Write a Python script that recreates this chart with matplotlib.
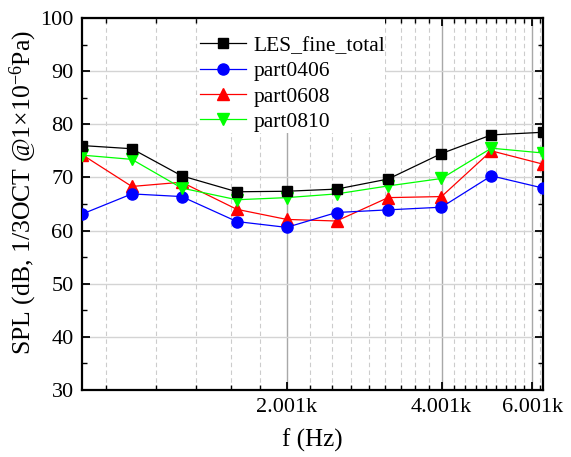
import numpy as np
import matplotlib
matplotlib.use("Agg")
import matplotlib.pyplot as plt
from matplotlib.patches import Rectangle
from matplotlib.ticker import FixedLocator, FuncFormatter, MultipleLocator

plt.rcParams['font.family'] = ['Liberation Serif', 'DejaVu Serif']
plt.rcParams['mathtext.fontset'] = 'custom'
plt.rcParams['mathtext.rm'] = 'Liberation Serif'
plt.rcParams['mathtext.default'] = 'regular'

# 1/3 octave band centre frequencies (Hz)
freq = [800, 1000, 1250, 1600, 2000, 2500, 3150, 4000, 5000, 6300]

les_fine_total = [76.0, 75.4, 70.3, 67.3, 67.4, 67.8, 69.7, 74.5, 78.0, 78.5]
part0406 = [63.1, 66.9, 66.4, 61.7, 60.6, 63.4, 63.9, 64.4, 70.3, 68.0]
part0608 = [74.3, 68.3, 69.1, 64.0, 62.1, 61.8, 66.2, 66.4, 75.0, 72.5]
part0810 = [74.2, 73.4, 68.0, 65.8, 66.2, 66.9, 68.4, 69.8, 75.5, 74.6]

x_major = [2001, 4001, 6001]

fig = plt.figure(figsize=(5.71, 4.57), dpi=100)
ax = fig.add_axes([0.1436, 0.1466, 0.8073, 0.814])

ax.plot(freq, les_fine_total, color='black', lw=0.9, marker='s', ms=7,
        label='LES_fine_total', zorder=5)
ax.plot(freq, part0406, color='blue', lw=0.9, marker='o', ms=8,
        label='part0406', zorder=4)
ax.plot(freq, part0608, color='red', lw=0.9, marker='^', ms=8.5,
        label='part0608', zorder=3)
ax.plot(freq, part0810, color='#00ff00', lw=0.9, marker='v', ms=8.5,
        label='part0810', zorder=4)

ax.set_xscale('log')
ax.set_xlim(800, 6300)
ax.set_ylim(30, 100)

# Origin-style linear ticks on a log axis: start at 1, step 2000, 8 minors
ax.xaxis.set_major_locator(FixedLocator(x_major))
minors = [1 + k * 2000 / 9 for k in range(1, 40)]
minors = [m for m in minors if all(abs(m - v) > 1 for v in x_major)]
ax.xaxis.set_minor_locator(FixedLocator(minors))
ax.xaxis.set_major_formatter(FuncFormatter(lambda v, p: f"{v / 1000:.3f}k"))
ax.xaxis.set_minor_formatter(FuncFormatter(lambda v, p: ""))

ax.yaxis.set_major_locator(MultipleLocator(10))
ax.yaxis.set_minor_locator(MultipleLocator(5))

ax.grid(True, which='major', axis='y', color='#d4d4d4', lw=1.0, zorder=0)
ax.grid(True, which='major', axis='x', color='#a8a8a8', lw=1.0, zorder=0)
ax.grid(True, which='minor', axis='x', color='#cccccc', lw=0.8,
        linestyle=(0, (4, 3)), zorder=0)
ax.set_axisbelow(True)

ax.tick_params(which='both', direction='in', top=True, right=True,
               labelsize=16, pad=6)
ax.tick_params(which='major', length=6, width=1.3)
ax.tick_params(which='minor', length=3.5, width=1.0)

for sp in ax.spines.values():
    sp.set_linewidth(1.6)

ax.set_xlabel('f (Hz)', fontsize=18, labelpad=8)
ax.set_ylabel('SPL (dB, 1/3OCT @1×10$^{-6}$Pa)', fontsize=18.5)
ax.yaxis.set_label_coords(-0.093, 0.532)

# white patch behind the legend hides the grid there
ax.add_patch(Rectangle((0.254, 0.691), 0.403, 0.309, transform=ax.transAxes,
                       facecolor='white', edgecolor='none', zorder=1))

leg = ax.legend(loc='upper left', bbox_to_anchor=(0.239, 0.973),
                borderaxespad=0, fontsize=15.5, frameon=False,
                handlelength=2.15, handletextpad=0.35, labelspacing=0.25,
                borderpad=0.35)
leg.set_zorder(10)

fig.savefig('out.png', dpi=100)
